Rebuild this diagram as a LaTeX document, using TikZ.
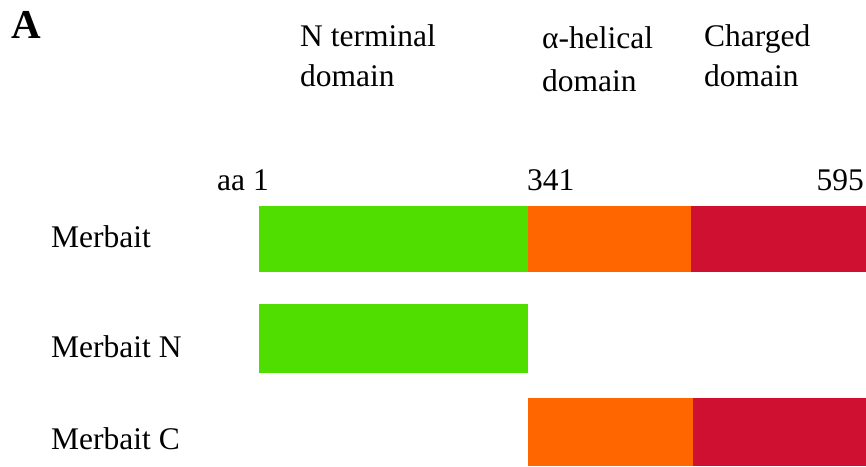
\documentclass[tikz,border=0pt]{standalone}
\usepackage{fontspec}
\setmainfont{LiberationSerif}[Extension=.ttf,UprightFont=*-Regular,BoldFont=*-Bold,ItalicFont=*-Italic,BoldItalicFont=*-BoldItalic]
\definecolor{ntermgreen}{RGB}{80,221,0}
\definecolor{helixorange}{RGB}{255,102,0}
\definecolor{chargedred}{RGB}{208,16,48}
\begin{document}
\begin{tikzpicture}[x=1pt,y=-1pt,
  lbl/.style={anchor=base west,inner sep=0pt,font=\fontsize{31.5}{36}\selectfont},
  panel/.style={anchor=base west,inner sep=0pt,font=\fontsize{41}{46}\selectfont\bfseries}]
\useasboundingbox (0,0) rectangle (866,466);

% panel letter
\node[panel] (A) at (11,38) {A};

% domain headings
\node[lbl] (h1a) at (300,46) {N terminal};
\node[lbl] (h1b) at (300,86) {domain};
\node[lbl] (h2a) at (542,48) {α-helical};
\node[lbl] (h2b) at (542,91) {domain};
\node[lbl] (h3a) at (704,46) {Charged};
\node[lbl] (h3b) at (704,86) {domain};

% residue numbers
\node[lbl] (aa1) at (217,190) {aa 1};
\node[lbl] (n341) at (527,190) {341};
\node[lbl,anchor=base east] (n595) at (864,190) {595};

% construct names
\node[lbl] (m0) at (51,247) {Merbait};
\node[lbl] (m1) at (51,357) {Merbait N};
\node[lbl] (m2) at (51,449) {Merbait C};

% full-length Merbait
\fill[ntermgreen]   (258.7,205.7) rectangle (528.3,272.3);
\fill[helixorange]  (528.3,205.7) rectangle (690.7,272.3);
\fill[chargedred]   (690.7,205.7) rectangle (866,272.3);

% Merbait N
\fill[ntermgreen]   (258.7,304.3) rectangle (528.3,373.3);

% Merbait C
\fill[helixorange]  (528.3,397.7) rectangle (693.3,466);
\fill[chargedred]   (693.3,397.7) rectangle (866,466);
\end{tikzpicture}
\end{document}
